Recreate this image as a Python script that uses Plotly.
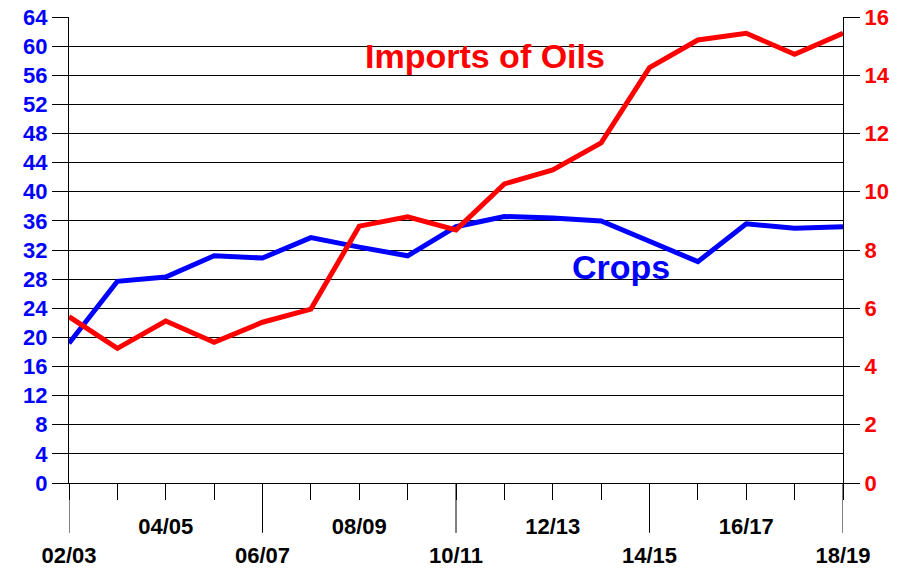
import plotly.graph_objects as go

# 作物年度
years = ["02/03", "03/04", "04/05", "05/06", "06/07", "07/08", "08/09", "09/10",
         "10/11", "11/12", "12/13", "13/14", "14/15", "15/16", "16/17", "17/18", "18/19"]
crops = [19.2, 27.7, 28.3, 31.2, 30.9, 33.7, 32.4, 31.2, 35.2,
         36.6, 36.4, 36.0, 33.2, 30.4, 35.6, 35.0, 35.2]
oil_imports = [5.71, 4.62, 5.56, 4.83, 5.52, 5.97, 8.82, 9.14, 8.69,
               10.27, 10.75, 11.68, 14.26, 15.21, 15.44, 14.72, 15.44]

left_ticks = list(range(0, 65, 4))
right_ticks = list(range(0, 17, 2))

FONT = "Liberation Sans, Arial, sans-serif"
BLUE = "#0000ff"
RED = "#ff0000"

# 下段ラベルは改行で一段下げる
tick_text = []
for i, y in enumerate(years):
    if i % 4 == 0:
        tick_text.append(" <br><b>" + y + "</b>")
    elif i % 2 == 0:
        tick_text.append("<b>" + y + "</b>")
    else:
        tick_text.append("")

fig = go.Figure()
fig.add_trace(go.Scatter(
    x=years, y=crops, mode="lines",
    line=dict(color=BLUE, width=5), yaxis="y",
))
fig.add_trace(go.Scatter(
    x=years, y=oil_imports, mode="lines",
    line=dict(color=RED, width=5), yaxis="y2",
))

# 長い目盛り (4年ごと)
for i, y in enumerate(years):
    if i % 4 == 0:
        fig.add_shape(
            type="line", xref="x", yref="paper",
            x0=y, x1=y, y0=0, y1=-0.107,
            line=dict(color="black", width=1),
        )

fig.add_annotation(
    xref="paper", yref="paper", x=0.5375, y=0.916,
    xanchor="center", yanchor="middle",
    text="<b>Imports of Oils</b>", showarrow=False,
    font=dict(family=FONT, size=34, color=RED),
)
fig.add_annotation(
    xref="paper", yref="paper", x=0.713, y=0.463,
    xanchor="center", yanchor="middle",
    text="<b>Crops</b>", showarrow=False,
    font=dict(family=FONT, size=34, color=BLUE),
)

fig.update_layout(
    width=900, height=568,
    margin=dict(l=69, r=57, t=17, b=85),
    paper_bgcolor="white", plot_bgcolor="white",
    showlegend=False,
    xaxis=dict(
        type="category", range=[0, 16], automargin=False,
        tickmode="array", tickvals=years, ticktext=tick_text,
        ticks="outside", ticklen=16, tickcolor="black", tickwidth=1,
        ticklabelstandoff=8,
        showgrid=False, showline=True, linecolor="black", linewidth=1,
        zeroline=False,
        tickfont=dict(family=FONT, size=22, color="black"),
    ),
    yaxis=dict(
        range=[0, 64], automargin=False,
        tickmode="array", tickvals=left_ticks,
        ticktext=["<b>%d</b>" % v for v in left_ticks],
        ticks="outside", ticklen=16, tickcolor="black", tickwidth=1,
        showgrid=True, gridcolor="black", gridwidth=1,
        showline=True, linecolor="black", linewidth=1, zeroline=False,
        tickfont=dict(family=FONT, size=22, color=BLUE),
    ),
    yaxis2=dict(
        range=[0, 16], overlaying="y", side="right", automargin=False,
        tickmode="array", tickvals=right_ticks,
        ticktext=["<b>%d</b>" % v for v in right_ticks],
        ticks="outside", ticklen=16, tickcolor="black", tickwidth=1,
        showgrid=False, showline=True, linecolor="black", linewidth=1,
        zeroline=False,
        tickfont=dict(family=FONT, size=22, color=RED),
    ),
)

# ページ既定の余白 (8px) を消す
fig.write_html(
    "out.html",
    config={"displayModeBar": False},
    post_script="document.body.style.margin = '0';",
)
